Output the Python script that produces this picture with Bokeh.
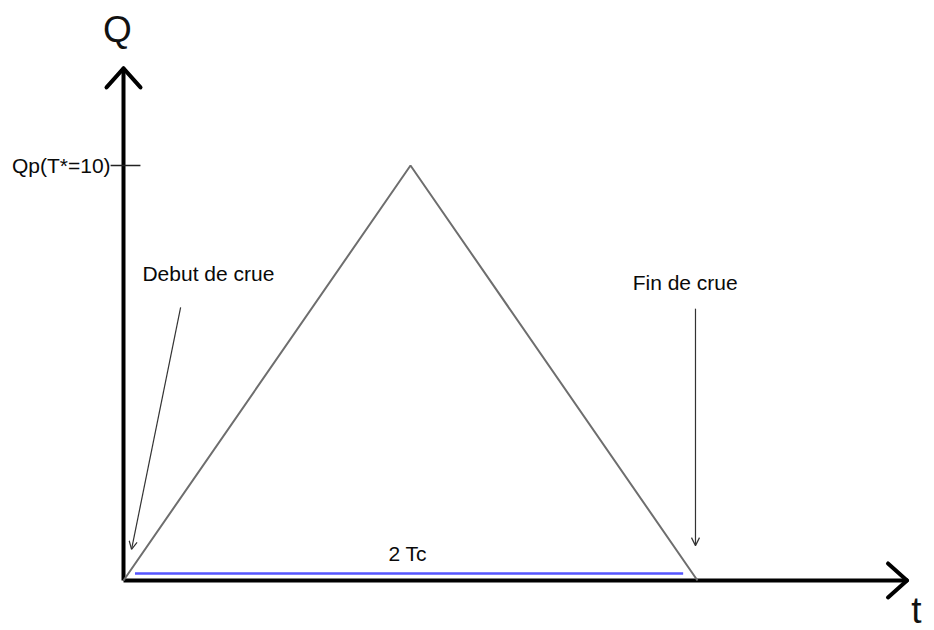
from bokeh.plotting import figure
from bokeh.models import Range1d, Arrow, OpenHead
from bokeh.core.properties import value
from bokeh.embed import file_html
from bokeh.resources import INLINE

# Triangular flood hydrograph: time in units of Tc, discharge in units of Qp
t_hydro = [0.0, 1.0, 2.0]
q_hydro = [0.0, 1.0, 0.0]

# Axis extents (data units)
t_axis_end = 2.73
q_axis_end = 1.234

# Base of the hydrograph (duration 2 Tc) drawn just above the time axis
base_t = [0.04, 1.95]
base_q = 0.017

# Peak tick on the Q axis
tick_t = [-0.045, 0.059]
tick_q = 1.0

# Labels
peak_label = "Qp(T*=10)"
start_label = "Debut de crue"
end_label = "Fin de crue"
base_label = "2 Tc"
q_axis_label = "Q"
t_axis_label = "t"

# Pointer arrows (start -> end) for the two annotations
start_arrow = [(0.199, 0.658), (0.028, 0.075)]
end_arrow = [(1.993, 0.655), (1.993, 0.084)]

W, H = 934, 630
x_lo, x_hi = -0.4286, 2.8258
y_lo, y_hi = -0.1205, 1.3976
sx = W / (x_hi - x_lo)   # pixels per data unit, horizontal
sy = H / (y_hi - y_lo)   # pixels per data unit, vertical

p = figure(width=W, height=H, output_backend="svg", toolbar_location=None,
           x_range=Range1d(x_lo, x_hi), y_range=Range1d(y_lo, y_hi),
           x_axis_location=None, y_axis_location=None, min_border=0)
p.grid.visible = False
p.outline_line_color = None
p.background_fill_color = "white"
p.border_fill_color = "white"

FONT = value("Liberation Sans")
TXT = "#0a0a0a"

# Coordinate axes
p.segment(x0=[0, 0], y0=[0, 0], x1=[t_axis_end, 0], y1=[0, q_axis_end],
          line_color="black", line_width=4)

# Open arrowheads at the axis ends (head size given in pixels)
head_len, head_half = 19, 17
hx0 = [t_axis_end, t_axis_end, 0, 0]
hy0 = [0, 0, q_axis_end, q_axis_end]
hx1 = [t_axis_end - head_len / sx, t_axis_end - head_len / sx,
       -head_half / sx, head_half / sx]
hy1 = [head_half / sy, -head_half / sy,
       q_axis_end - head_len / sy, q_axis_end - head_len / sy]
p.segment(x0=hx0, y0=hy0, x1=hx1, y1=hy1, line_color="black",
          line_width=4, line_cap="round")

# Peak tick
p.segment(x0=[tick_t[0]], y0=[tick_q], x1=[tick_t[1]], y1=[tick_q],
          line_color="#222222", line_width=1.3)

# Hydrograph triangle
p.line(t_hydro, q_hydro, line_color="#6e6e6e", line_width=2)

# Base duration line
p.line(base_t, [base_q, base_q], line_color="#5555ff", line_width=2.5)

# Annotation pointers
for (xs, ys), (xe, ye) in [start_arrow, end_arrow]:
    p.add_layout(Arrow(x_start=xs, y_start=ys, x_end=xe, y_end=ye,
                       line_color="#333333", line_width=1.2,
                       end=OpenHead(size=8, line_color="#333333", line_width=1.2)))

# Texts
p.text(x=[-0.045], y=[tick_q], text=[peak_label], text_font=FONT,
       text_font_size="21px", text_align="right", text_baseline="middle",
       text_color=TXT)
p.text(x=[0.066], y=[0.740], text=[start_label], text_font=FONT,
       text_font_size="21px", text_align="left", text_baseline="middle",
       text_color=TXT)
p.text(x=[1.774], y=[0.718], text=[end_label], text_font=FONT,
       text_font_size="21px", text_align="left", text_baseline="middle",
       text_color=TXT)
p.text(x=[0.99], y=[0.065], text=[base_label], text_font=FONT,
       text_font_size="21px", text_align="center", text_baseline="middle",
       text_color=TXT)
p.text(x=[-0.021], y=[1.328], text=[q_axis_label], text_font=FONT,
       text_font_size="37px", text_align="center", text_baseline="middle",
       text_color="#111111")
p.text(x=[2.745], y=[-0.072], text=[t_axis_label], text_font=FONT,
       text_font_size="37px", text_align="left", text_baseline="middle",
       text_color="#111111")

open("out.html", "w").write(file_html(p, INLINE))
